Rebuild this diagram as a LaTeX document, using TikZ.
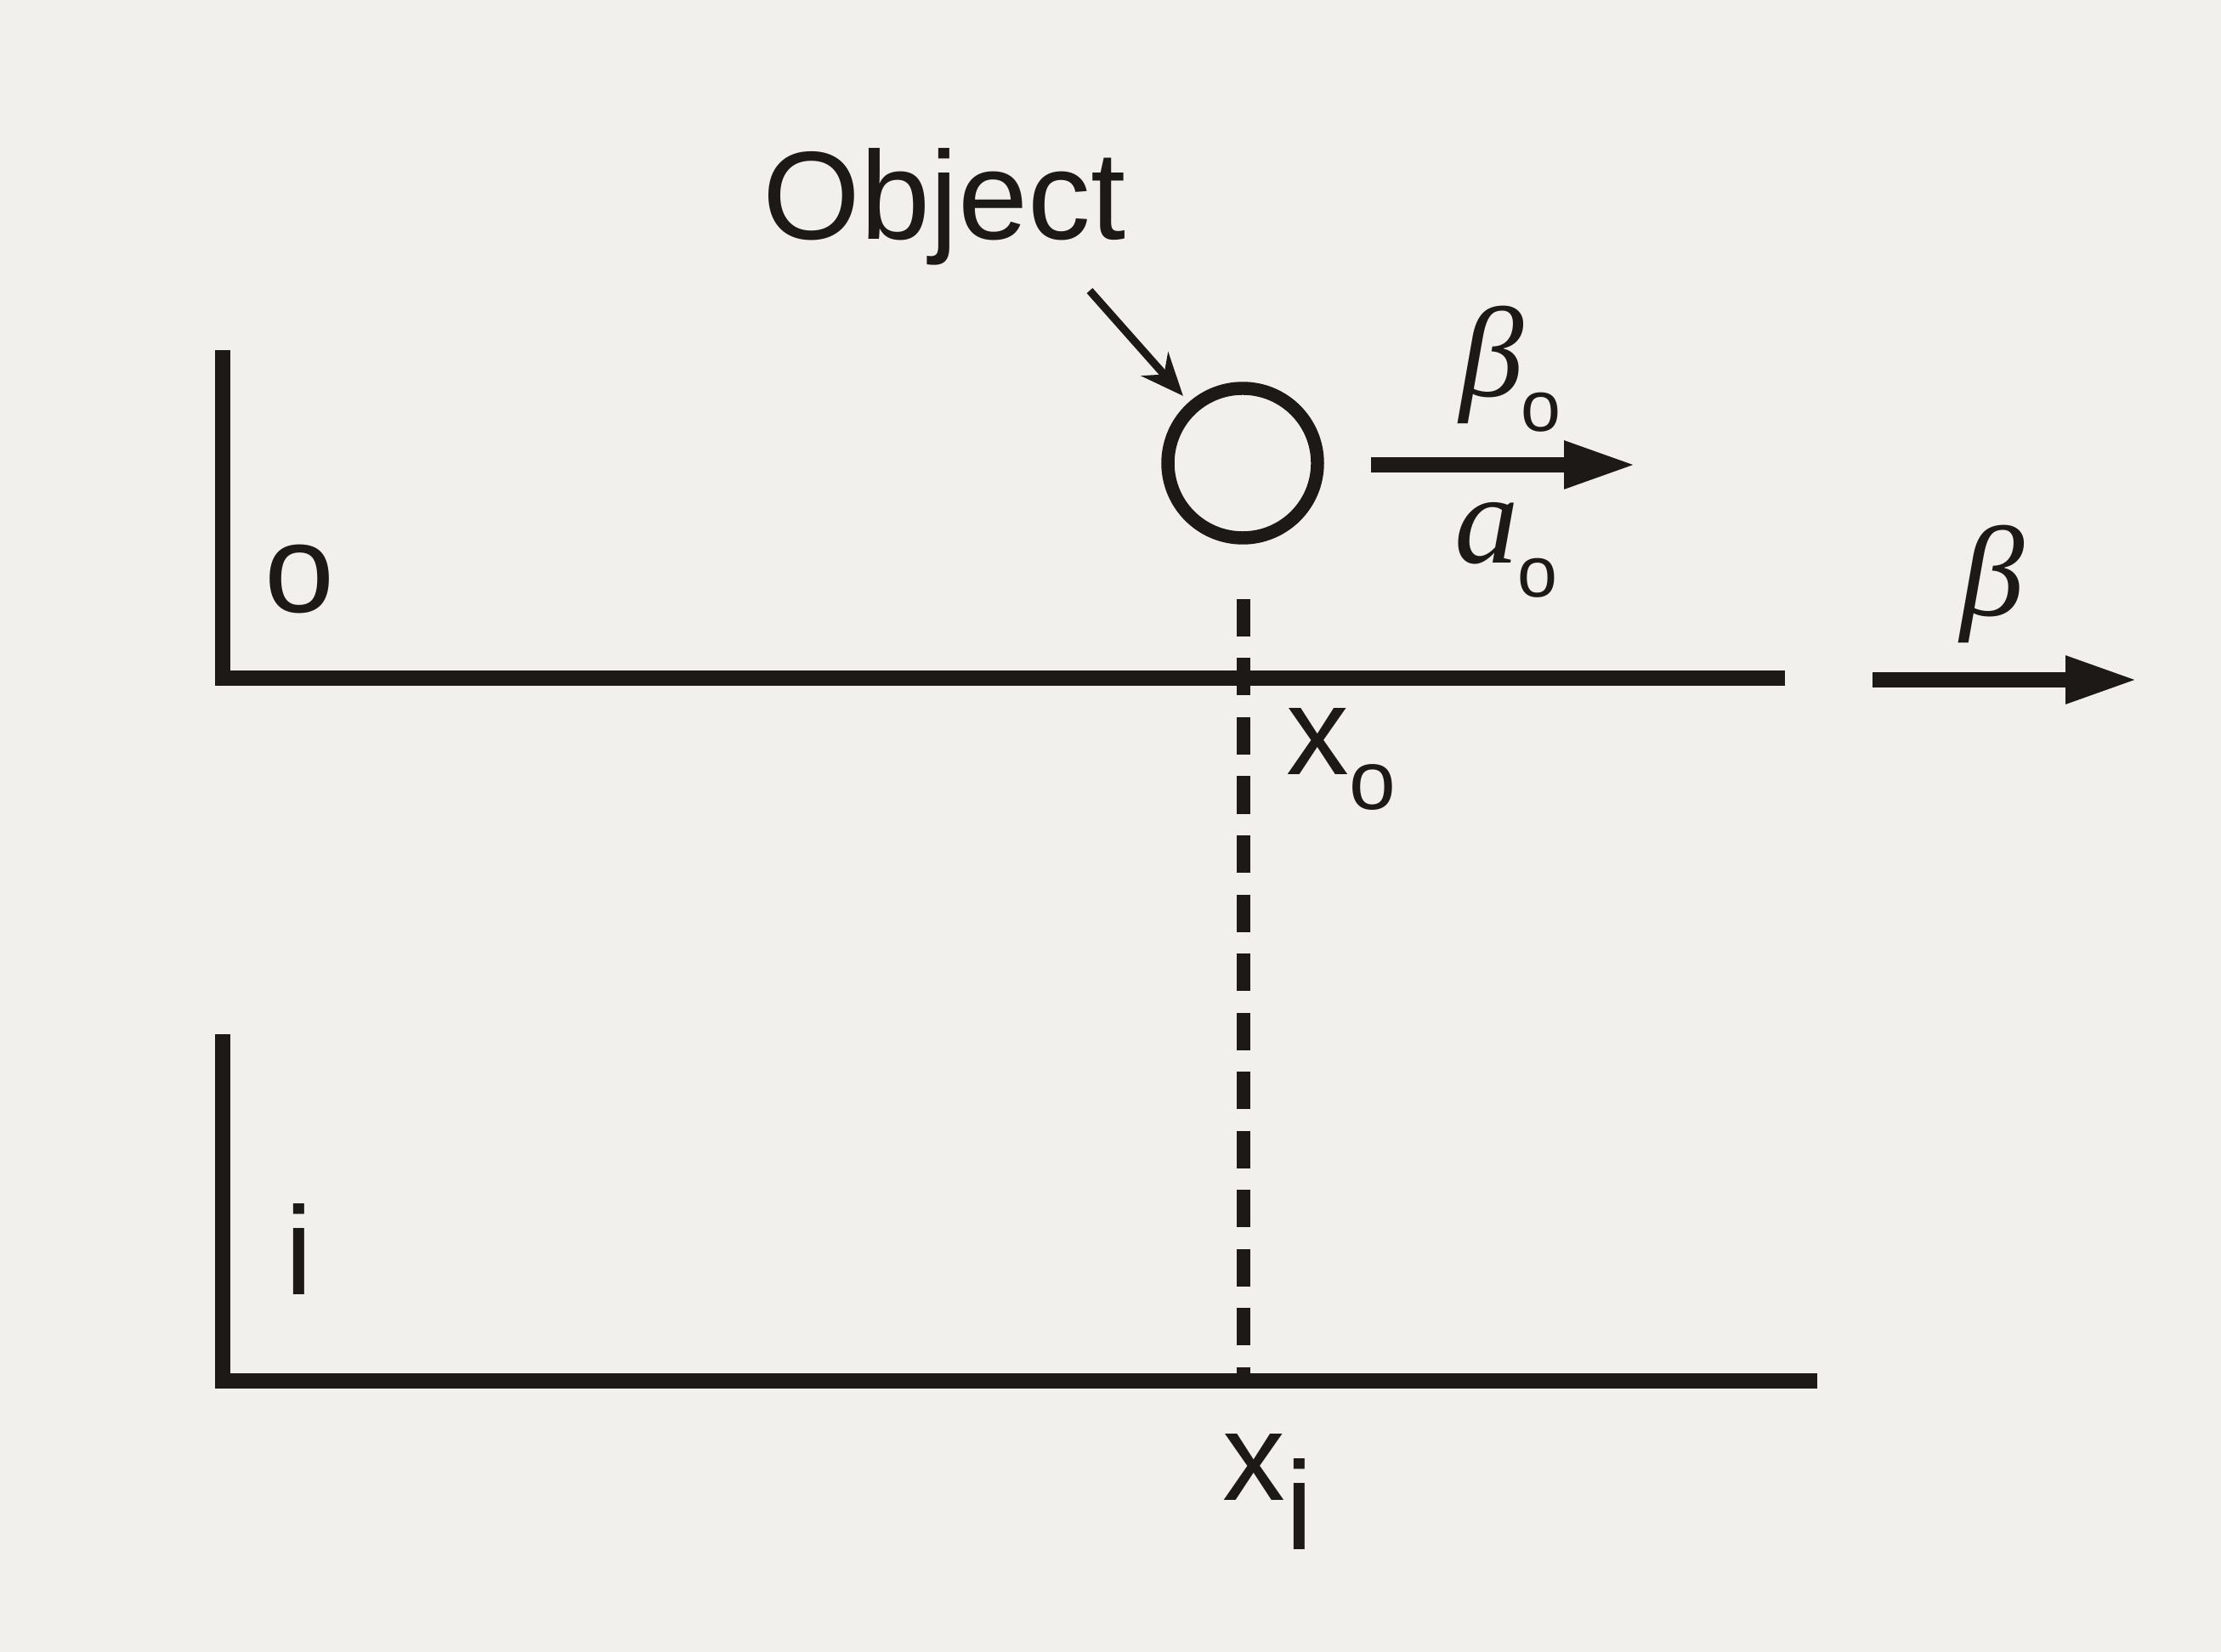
\documentclass[tikz,border=0pt]{standalone}
\usepackage{fontspec}
\setmainfont{Liberation Serif}
\newfontfamily\labfont{Liberation Sans}
\usetikzlibrary{arrows.meta}
\definecolor{paper}{HTML}{F1F0ED}
\definecolor{ink}{HTML}{1C1917}

\begin{document}
\begin{tikzpicture}[
    axis/.style={line width=5pt, color=ink},
    dashline/.style={line width=4.6pt, color=ink, dash pattern=on 0.44cm off 0.255cm},
    vel/.style={line width=5pt, color=ink, -{Triangle[length=0.85cm, width=0.52cm]}},
    pointer/.style={line width=2.6pt, color=ink, -{Stealth[length=0.5cm, width=0.42cm]}},
    lab/.style={font=\labfont\fontsize{42}{50}\selectfont, text=ink, inner sep=0pt},
    sym/.style={font=\itshape\fontsize{43}{50}\selectfont, text=ink, inner sep=0pt},
    sub/.style={font=\labfont\fontsize{24}{28}\selectfont, text=ink, inner sep=0pt}
]
\fill[paper] (0,0) rectangle (26.13,-19.44);
\useasboundingbox (0,0) rectangle (26.13,-19.44);

% object frame and image frame
\draw[axis] (2.62,-4.12) -- (2.62,-7.98) -- (21.0,-7.98);
\draw[axis] (2.62,-12.17) -- (2.62,-16.25) -- (21.38,-16.25);
\node[lab, anchor=base] (olab) at (3.53,-7.21) {o};
\node[lab, anchor=base] (ilab) at (3.52,-15.23) {i};

% the object
\node[lab, anchor=base] (objlab) at (11.11,-2.82) {Object};
\node[circle, draw=ink, line width=4.4pt, minimum size=1.76cm, inner sep=0pt] (ball) at (14.62,-5.45) {};
\coordinate (objtail) at (12.82,-3.42);
\draw[pointer, shorten >=0.1cm] (objtail) -- (ball);

% velocities
\coordinate (vo0) at (16.13,-5.47);
\coordinate (vo1) at (19.25,-5.47);
\draw[vel] (vo0) -- (vo1);
\node[sym, anchor=base] (beta0) at (17.55,-4.67) {β};
\node[sub, anchor=base] (beta0s) at (18.13,-5.08) {o};
\node[sym, anchor=base] (acc0) at (17.49,-6.63) {a};
\node[sub, anchor=base] (acc0s) at (18.09,-7.03) {o};

\coordinate (vf0) at (22.03,-8.0);
\coordinate (vf1) at (25.15,-8.0);
\draw[vel] (vf0) -- (vf1);
\node[sym, anchor=base] (beta) at (23.44,-7.25) {β};

% projection
\coordinate (dtop) at (14.63,-7.05);
\coordinate (dbot) at (14.63,-16.25);
\draw[dashline] (dtop) -- (dbot);
\node[lab, anchor=base west] (xo) at (15.13,-9.12) {x\raisebox{-0.41cm}{\fontsize{28}{30}\selectfont o}};
\node[lab, anchor=base west] (xi) at (14.38,-17.65) {x\raisebox{-0.58cm}{i}};

\end{tikzpicture}
\end{document}
